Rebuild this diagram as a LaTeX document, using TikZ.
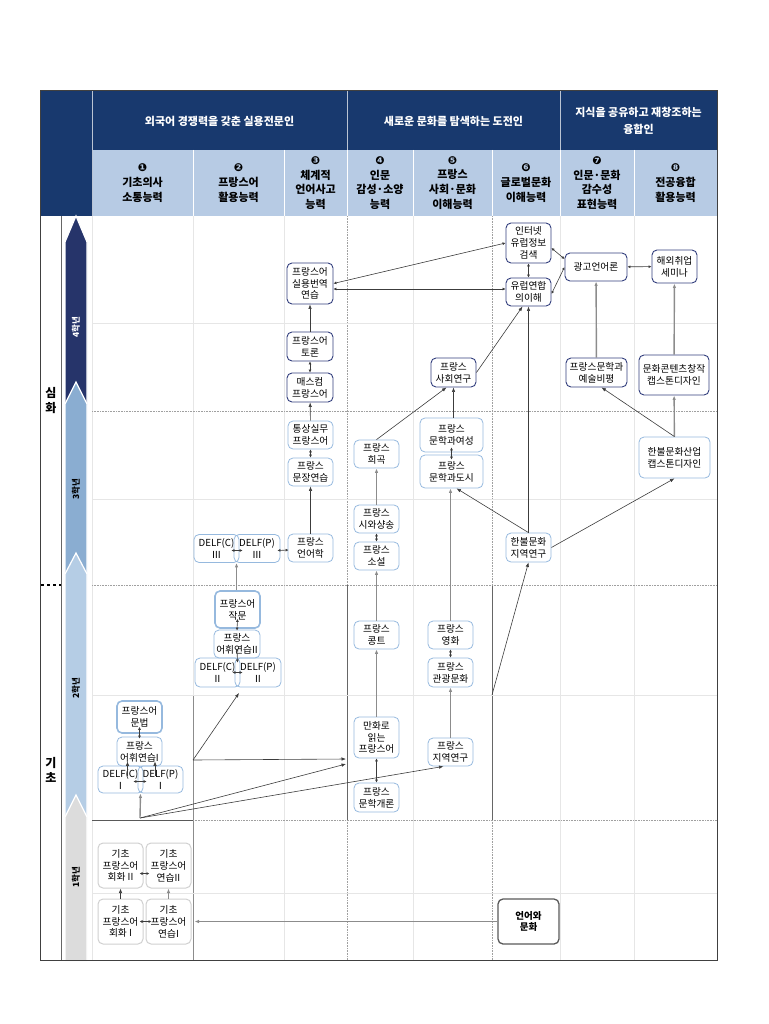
\documentclass[tikz,border=0pt]{standalone}
\usepackage{fontspec}
\setmainfont{Noto Sans CJK KR}
\newfontfamily\symfont{DejaVu Sans}
\usetikzlibrary{positioning,calc,arrows.meta}
\definecolor{hdnavy}{RGB}{24,57,110}
\definecolor{hdlight}{RGB}{183,203,228}
\definecolor{yrfour}{RGB}{38,52,106}
\definecolor{yrthree}{RGB}{138,173,209}
\definecolor{yrtwo}{RGB}{181,205,229}
\definecolor{yrone}{RGB}{220,220,220}
\definecolor{boxnavy}{RGB}{50,62,125}
\definecolor{boxblue}{RGB}{150,185,222}
\definecolor{boxgray}{RGB}{208,208,208}
\definecolor{gridlight}{RGB}{230,230,230}
\definecolor{griddot}{RGB}{160,160,160}
\definecolor{linedark}{RGB}{60,60,60}
\definecolor{linegray}{RGB}{140,140,140}
\tikzset{>={Latex[length=4.5pt,width=3.5pt]}}

\begin{document}
\begin{tikzpicture}[x=1pt,y=-1pt,
	course/.style={rounded corners=5pt, align=center, inner sep=0.5pt, font=\fontsize{9.7}{11.8}\selectfont, minimum width=45pt, minimum height=28pt},
	navybox/.style={course, draw=boxnavy, line width=0.9pt},
	bluebox/.style={course, draw=boxblue, line width=0.8pt},
	thickblue/.style={course, draw=boxblue, line width=1.6pt},
	graybox/.style={course, draw=boxgray, line width=1pt},
	darkbox/.style={course, draw=black!65, line width=1.3pt, font=\bfseries\fontsize{9.5}{11}\selectfont},
	conn/.style={draw=linedark, line width=0.6pt, ->},
	twoway/.style={draw=linedark, line width=0.6pt, {Latex[length=3pt,width=3pt]}-{Latex[length=3pt,width=3pt]}},
	grayconn/.style={draw=linegray, line width=1.4pt, ->},
	colhead/.style={align=center, font=\bfseries\fontsize{11}{14.8}\selectfont},
	bullet/.style={font=\symfont\fontsize{11}{14.8}\selectfont},
	sechead/.style={text=white, align=center, font=\bfseries\fontsize{11}{17}\selectfont},
	yearlbl/.style={rotate=90, font=\bfseries\fontsize{8.5}{9}\selectfont}]
		\useasboundingbox (0,0) rectangle (768,1024);
		% header
		\fill[hdnavy] (40,90) rectangle (717,150);
		\fill[hdnavy] (40,150) rectangle (92,216);
		\fill[hdlight] (92,150) rectangle (717,216);
		\draw[white!70!hdnavy, line width=0.6pt] (92,90) -- (92,216);
		\draw[white!70!hdnavy, line width=0.6pt] (347,90) -- (347,150);
		\draw[white!70!hdnavy, line width=0.6pt] (560,90) -- (560,150);
		\foreach \cx in {193,284,347,413,492,560,634}
			\draw[white, line width=0.8pt] (\cx,150) -- (\cx,216);
		\node[sechead] (secone) at (219.5,121) {외국어 경쟁력을 갖춘 실용전문인};
		\node[sechead] (sectwo) at (453.5,121) {새로운 문화를 탐색하는 도전인};
		\node[sechead] (secthree) at (638.5,121) {지식을 공유하고 재창조하는\\융합인};
		\node[colhead] (hone) at (142.5,183) {{\symfont\fontsize{11}{14.8}\selectfont ❶}\\기초의사\\소통능력};
		\node[colhead] (htwo) at (238.5,183) {{\symfont\fontsize{11}{14.8}\selectfont ❷}\\프랑스어\\활용능력};
		\node[colhead] (hthree) at (315.5,183) {{\symfont\fontsize{11}{14.8}\selectfont ❸}\\체계적\\언어사고\\능력};
		\node[colhead] (hfour) at (380,183) {{\symfont\fontsize{11}{14.8}\selectfont ❹}\\인문\\감성·소양\\능력};
		\node[colhead] (hfive) at (452.5,183) {{\symfont\fontsize{11}{14.8}\selectfont ❺}\\프랑스\\사회·문화\\이해능력};
		\node[colhead] (hsix) at (526,183) {{\symfont\fontsize{11}{14.8}\selectfont ❻}\\글로벌문화\\이해능력};
		\node[colhead] (hseven) at (597,183) {{\symfont\fontsize{11}{14.8}\selectfont ❼}\\인문·문화\\감수성\\표현능력};
		\node[colhead] (height) at (675.5,183) {{\symfont\fontsize{11}{14.8}\selectfont ❽}\\전공융합\\활용능력};
		% grid
		\foreach \cx in {92,284,413,560,634}
			\draw[gridlight, line width=0.8pt] (\cx,216) -- (\cx,960);
		\draw[gridlight, line width=0.8pt] (193,216) -- (193,695);
		\draw[linegray, line width=0.9pt] (193,695) -- (193,960);
		\foreach \cx in {347,492} {
			\draw[griddot, densely dotted, line width=0.6pt] (\cx,216) -- (\cx,585);
			\draw[black!60, line width=0.8pt] (\cx,585) -- (\cx,820);
			\draw[griddot, densely dotted, line width=0.6pt] (\cx,820) -- (\cx,960);
		}
		\foreach \ry in {323,499,695,893}
			\draw[gridlight, line width=0.8pt] (92,\ry) -- (717,\ry);
		\foreach \ry in {411,585}
			\draw[griddot, densely dotted, line width=0.6pt] (92,\ry) -- (717,\ry);
		\draw[griddot, densely dotted, line width=0.6pt] (193,820) -- (717,820);
		\draw[black!65, line width=1pt] (92,820) -- (193,820);
		% year arrows
		\draw[white, line width=1.2pt, fill=yrfour] (65,242) -- (76,216) -- (87,242) -- (87,405) -- (65,405) -- cycle;
		\draw[white, line width=1.2pt, fill=yrthree] (65,404) -- (76,382) -- (87,404) -- (87,580) -- (65,580) -- cycle;
		\draw[white, line width=1.2pt, fill=yrtwo] (65,574) -- (76,553) -- (87,574) -- (87,820) -- (65,820) -- cycle;
		\draw[white, line width=1.2pt, fill=yrone] (65,817) -- (76,795) -- (87,817) -- (87,961) -- (65,961) -- cycle;
		\node[yearlbl, text=white] (yfour) at (76,327) {4학년};
		\node[yearlbl] (ythree) at (76,489) {3학년};
		\node[yearlbl] (ytwo) at (76,688) {2학년};
		\node[yearlbl] (yone) at (76,877) {1학년};
		\node[align=center, font=\bfseries\fontsize{12}{15}\selectfont] (simhwa) at (51,401) {심\\화};
		\node[align=center, font=\bfseries\fontsize{12}{15}\selectfont] (gicho) at (51,770) {기\\초};
		\draw[black, line width=1.3pt, dash pattern=on 3pt off 3pt] (41,585) -- (61,585);
		% frame
		\draw[black!75, line width=0.8pt] (40,90) rectangle (717,960);
		\draw[black!60, line width=0.7pt] (61,216) -- (61,960);

		% 4th year
		\node[navybox, minimum height=40pt] (inet) at (528.5,243) {인터넷\\유럽정보\\검색};
		\node[navybox] (eu) at (528.5,292) {유럽연합\\의이해};
		\node[navybox, minimum width=62pt] (gwango) at (596,267) {광고언어론};
		\node[navybox, minimum height=33pt] (haeoe) at (674.5,266.5) {해외취업\\세미나};
		\node[navybox, minimum width=46pt, minimum height=41pt] (beonyeok) at (310,283.5) {프랑스어\\실용번역\\연습};
		\node[navybox, minimum width=46pt, minimum height=29pt] (toron) at (310,346.5) {프랑스어\\토론};
		\node[navybox, minimum width=46pt, minimum height=29pt] (mass) at (310,387.5) {매스컴\\프랑스어};
		\node[navybox, minimum height=29pt] (sahoe) at (453.5,372.5) {프랑스\\사회연구};
		\node[navybox, minimum width=61pt, minimum height=29pt] (yesul) at (596.5,372.5) {프랑스문학과\\예술비평};
		\node[navybox, minimum width=70pt, minimum height=40pt] (kontents) at (674,375) {문화콘텐츠창작\\캡스톤디자인};
		% 3rd year
		\node[bluebox] (tongsang) at (310.5,435) {통상실무\\프랑스어};
		\node[bluebox] (munjang) at (310.5,472) {프랑스\\문장연습};
		\node[bluebox] (eoneo) at (310.5,548) {프랑스\\언어학};
		\node[bluebox] (delfc3) at (216.5,548.5) {DELF(C)\\Ⅲ};
		\node[bluebox, minimum width=46pt] (delfp3) at (257,548.5) {DELF(P)\\Ⅲ};
		\node[bluebox] (hoegok) at (376.5,454) {프랑스\\희곡};
		\node[bluebox] (siwa) at (376.5,519) {프랑스\\시와샹송};
		\node[bluebox] (soseol) at (376.5,556) {프랑스\\소설};
		\node[bluebox, minimum width=63pt, minimum height=34pt] (yeoseong) at (451.5,435) {프랑스\\문학과여성};
		\node[bluebox, minimum width=63pt, minimum height=33pt] (dosi) at (451.5,471.5) {프랑스\\문학과도시};
		\node[bluebox, minimum height=29pt] (hanbul) at (528.5,547.5) {한불문화\\지역연구};
		\node[bluebox, minimum width=71pt, minimum height=41pt] (sanup) at (674.5,457.5) {한불문화산업\\캡스톤디자인};
		% 2nd year
		\node[thickblue, minimum height=37pt] (jakmun) at (237.5,609.5) {프랑스어\\작문};
		\node[bluebox, minimum width=46pt] (eohwi2) at (237,644) {프랑스\\어휘연습II};
		\node[bluebox, minimum height=29pt] (delfc2) at (217.5,672.5) {DELF(C)\\Ⅱ};
		\node[bluebox, minimum width=46pt, minimum height=29pt] (delfp2) at (258,672.5) {DELF(P)\\Ⅱ};
		\node[thickblue, minimum height=32pt] (munbeop) at (139.5,717) {프랑스어\\문법};
		\node[bluebox, minimum height=29pt] (eohwi1) at (139.5,751.5) {프랑스\\어휘연습I};
		\node[bluebox, minimum height=27pt] (delfc1) at (120.5,779.5) {DELF(C)\\Ⅰ};
		\node[bluebox, minimum height=27pt] (delfp1) at (160.5,779.5) {DELF(P)\\Ⅰ};
		\node[bluebox] (conte) at (376.5,635) {프랑스\\콩트};
		\node[bluebox, minimum height=41pt] (manhwa) at (376.5,737.5) {만화로\\읽는\\프랑스어};
		\node[bluebox, minimum height=29pt] (gaeron) at (376.5,797.5) {프랑스\\문학개론};
		\node[bluebox] (yeonghwa) at (450.5,635) {프랑스\\영화};
		\node[bluebox, minimum height=29pt] (gwangwang) at (450.5,672.5) {프랑스\\관광문화};
		\node[bluebox] (jiyeok) at (450.5,752) {프랑스\\지역연구};
		% 1st year
		\node[graybox, minimum height=45pt] (hoehwa2) at (120.5,865.5) {기초\\프랑스어\\회화 II};
		\node[graybox, minimum height=45pt] (yeonseup2) at (168.5,865.5) {기초\\프랑스어\\연습II};
		\node[graybox, minimum height=45pt] (hoehwa1) at (120.5,921.5) {기초\\프랑스어\\회화 I};
		\node[graybox, minimum height=45pt] (yeonseup1) at (168.5,921.5) {기초\\프랑스어\\연습I};
		\node[darkbox, minimum width=61pt, minimum height=45pt] (eoneomunhwa) at (528.5,921.5) {언어와\\문화};

		\coordinate (d3bot) at ($(delfc3.south east)!0.5!(delfp3.south west)$);
		\coordinate (d2top) at ($(delfc2.north east)!0.5!(delfp2.north west)$);
		\coordinate (d2bot) at (239,693);
		\coordinate (d1bot) at ($(delfc1.south east)!0.5!(delfp1.south west)$);
		\coordinate (grpA) at (193,760);
		\coordinate (grpB) at (140,818);
		\coordinate (grpC) at (492,695);
		\coordinate (colfourA) at (346,759);
		\coordinate (colfourB) at (346,764);

		% connectors
		\draw[twoway] (beonyeok.east) -- (inet.west);
		\draw[twoway] ($(beonyeok.east)+(0,5.5)$) -- ($(eu.west)+(0,-3)$);
		\draw[twoway] (inet) -- (eu);
		\draw[twoway] ($(inet.east)+(0,5)$) -- ($(gwango.west)+(0,-8)$);
		\draw[twoway] ($(eu.east)+(0,2)$) -- (gwango.west);
		\draw[twoway] (gwango) -- (haeoe);
		\draw[conn] (toron) -- (beonyeok);
		\draw[twoway] (toron) -- (mass);
		\draw[conn] (tongsang) -- (mass);
		\draw[twoway] (munjang) -- (tongsang);
		\draw[conn] (eoneo) -- (munjang);
		\draw[conn] (sahoe.east) -- ($(eu.south)+(-6,0)$);
		\draw[conn] (hoegok.north) -- ($(sahoe.south)+(-7,0)$);
		\draw[conn] (yeoseong.north -| sahoe.south) -- (sahoe.south);
		\draw[grayconn] (yesul) -- (gwango);
		\draw[grayconn] (kontents) -- (haeoe);
		\draw[grayconn] (sanup) -- (kontents);
		\draw[conn] (sanup.north) -- ($(yesul.south)+(5,0)$);
		\draw[conn] (hanbul) -- (eu);
		\draw[conn] (hanbul.north) -- ($(dosi.south)+(5,0)$);
		\draw[conn] (hanbul.east) -- (sanup.south);
		\draw[twoway] ($(yeoseong.south)+(0,-5)$) -- ($(dosi.north)+(0,5)$);
		\draw[grayconn] (yeonghwa.north) -- (yeonghwa.north |- dosi.south);
		\draw[grayconn] (siwa) -- (hoegok);
		\draw[twoway] (soseol) -- (siwa);
		\draw[grayconn] (conte.north) -- (conte.north |- soseol.south);
		\draw[twoway] ($(delfc3.east)+(-8,2)$) -- ($(delfp3.west)+(9,2)$);
		\draw[twoway] ($(delfp3.east)+(-3,2)$) -- ($(eoneo.west)+(1,2)$);
		\draw[grayconn] (jakmun.north -| d3bot) -- (d3bot);
		\draw[twoway] ($(jakmun.south)+(0,-10)$) -- ($(eohwi2.north)+(0,1)$);
		\draw[twoway] ($(eohwi2.south)+(0,-10)$) -- ($(d2top)+(0,5)$);
		\draw[twoway] ($(delfc2.east)+(-8,0)$) -- ($(delfp2.west)+(8,0)$);
		\draw[conn] (grpA) -- (d2bot);
		\draw[conn] (grpA) -- (colfourA);
		\draw[conn] (grpB) -- (colfourB);
		\draw[conn] (grpB) -- ($(jiyeok.south)+(-7,0)$);
		\draw[grayconn] (grpB) -- (d1bot);
		\draw[conn] (grpC) -- (hanbul.south);
		\draw[twoway] ($(munbeop.south)+(0,-7)$) -- ($(eohwi1.north)+(0,2)$);
		\draw[conn] ($(delfc1.north)+(7,10)$) -- ($(eohwi1.south)+(-12,-5)$);
		\draw[conn] ($(delfp1.north)+(-5.5,10)$) -- ($(eohwi1.south)+(15.5,-5)$);
		\draw[twoway] ($(delfc1.east)+(-10,2)$) -- ($(delfp1.west)+(9,2)$);
		\draw[grayconn] (manhwa) -- (conte);
		\draw[twoway] (manhwa) -- (gaeron);
		\draw[twoway] (yeonghwa) -- (gwangwang);
		\draw[grayconn] (jiyeok) -- (gwangwang);
		\draw[conn] (hoehwa1) -- (hoehwa2);
		\draw[grayconn] (yeonseup1) -- (yeonseup2);
		\draw[twoway] ($(hoehwa2.east)+(-4,8)$) -- ($(yeonseup2.west)+(4,8)$);
		\draw[twoway] ($(hoehwa1.east)+(-4,0)$) -- ($(yeonseup1.west)+(6,0)$);
		\draw[grayconn] (eoneomunhwa.west) -- ($(yeonseup1.east)+(3,0)$);
	\end{tikzpicture}
\end{document}
